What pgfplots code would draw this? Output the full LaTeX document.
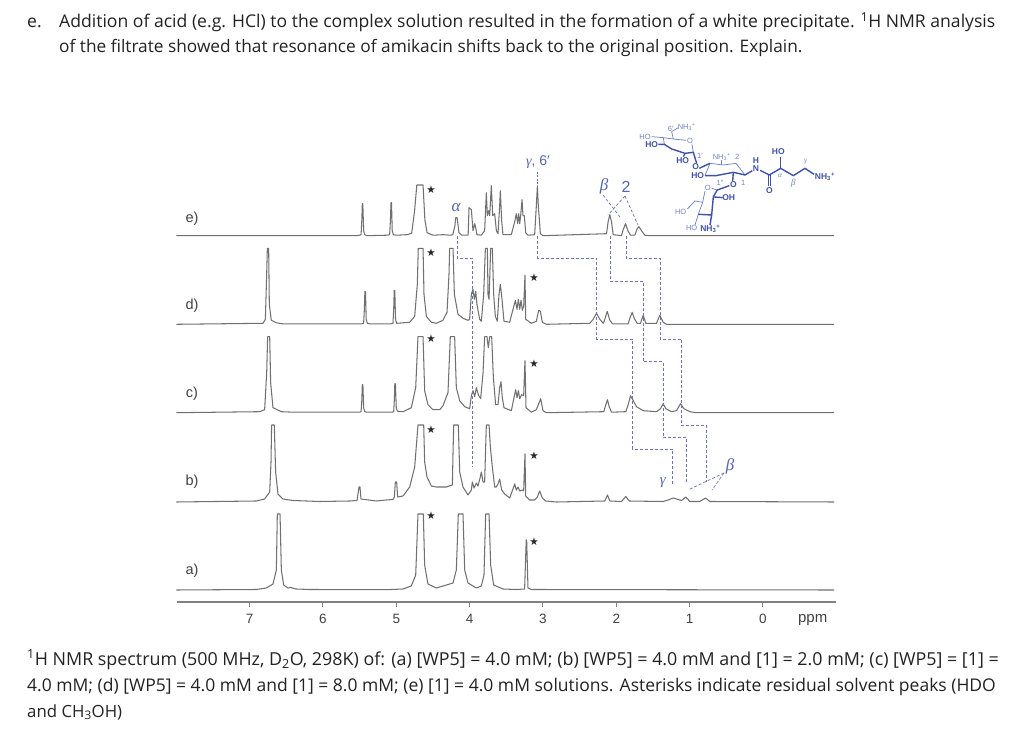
\documentclass[border=0pt]{standalone}
\usepackage{fontspec}
\usepackage{pgfplots}
\usepackage{pgfplotstable}
\pgfplotsset{compat=1.18}
\setmainfont{Open Sans}
\newfontfamily\lib{Liberation Sans}
\newfontfamily\libs{Liberation Serif}
\newfontfamily\djv{DejaVu Sans}
\definecolor{speccol}{HTML}{707070}
\definecolor{axcol}{HTML}{808080}
\definecolor{dashcol}{HTML}{6A74B8}
\definecolor{bluetxt}{HTML}{5566AE}
\definecolor{molcol}{HTML}{3F52A8}
\definecolor{moltcol}{HTML}{7282C4}
\definecolor{txtcol}{HTML}{222222}
\pgfplotstableread[row sep=crcr]{ppm h\\
8.00 0\\ 5.55 0\\ 5.50 .5\\ 5.48 1\\ 5.47 15\\ 5.463 32\\ 5.456 32\\ 5.445 5\\ 5.43 1\\ 5.40 0\\
5.12 .5\\ 5.09 1\\ 5.08 15\\ 5.072 33\\ 5.065 33\\ 5.055 5\\ 5.04 1\\ 5.00 .5\\
4.85 1\\ 4.79 2.5\\ 4.75 25\\ 4.72 50.7\\ 4.635 50.7\\ 4.61 16\\ 4.58 3\\ 4.50 .5\\ 4.36 1\\ 4.26 .5\\
4.23 1\\ 4.20 10\\ 4.19 18\\ 4.17 18\\ 4.145 3\\ 4.11 .5\\ 4.02 .5\\ 4.008 28\\ 3.976 26\\ 3.954 5\\ 3.93 12\\ 3.917 8\\ 3.90 1\\ 3.84 .5\\
3.795 5\\ 3.772 43\\ 3.758 20\\ 3.74 25\\ 3.726 20\\ 3.704 50\\ 3.685 20\\ 3.658 22\\ 3.635 5\\ 3.613 2\\ 3.59 30\\ 3.581 45\\ 3.563 15\\ 3.545 1\\
3.431 1\\ 3.385 14\\ 3.363 22\\ 3.345 12\\ 3.331 22\\ 3.317 12\\ 3.304 20\\ 3.285 36\\ 3.272 20\\ 3.254 20\\ 3.235 3\\ 3.204 .5\\
3.113 1\\ 3.09 30\\ 3.076 50\\ 3.063 30\\ 3.035 2\\ 3.0 0\\
2.133 2\\ 2.111 14\\ 2.088 21\\ 2.065 14\\ 2.043 1\\ 1.929 0\\ 1.906 6\\ 1.874 12\\ 1.842 5\\ 1.806 .5\\ 1.747 .5\\ 1.715 7\\ 1.692 9\\ 1.656 5\\ 1.611 .5\\ 1.54 0\\ -0.97 0\\
}\specE
\pgfplotstableread[row sep=crcr]{ppm h\\
8.0 0\\ 6.817 1\\ 6.785 5\\ 6.767 50\\ 6.758 76\\ 6.74 76\\ 6.731 20\\ 6.704 4\\ 6.635 1.5\\ 6.545 .5\\
5.47 .5\\ 5.445 1\\ 5.435 15\\ 5.428 33\\ 5.42 33\\ 5.41 5\\ 5.395 1\\ 5.36 .5\\
5.07 .5\\ 5.045 1\\ 5.035 15\\ 5.028 34\\ 5.02 34\\ 5.01 5\\ 4.995 1\\
4.817 2\\ 4.749 8\\ 4.713 40\\ 4.70 76\\ 4.635 76\\ 4.622 30\\ 4.59 8\\ 4.522 2\\ 4.454 1\\ 4.363 4\\ 4.308 12\\ 4.281 50\\ 4.272 76\\ 4.226 76\\ 4.208 30\\ 4.158 10\\ 4.09 6\\ 4.022 4\\ 4.0 5\\
3.976 30\\ 3.954 35\\ 3.935 25\\ 3.917 33\\ 3.90 20\\ 3.863 5\\ 3.84 3\\ 3.808 30\\ 3.785 76\\ 3.758 76\\ 3.749 30\\ 3.735 25\\ 3.713 76\\ 3.69 76\\ 3.672 30\\ 3.649 8\\ 3.622 3\\ 3.599 30\\ 3.581 40\\ 3.558 25\\ 3.531 3\\
3.454 2\\ 3.408 15\\ 3.376 24\\ 3.354 15\\ 3.335 25\\ 3.317 15\\ 3.299 24\\ 3.281 14\\ 3.263 18\\ 3.245 49\\ 3.235 5\\ 3.158 1\\ 3.09 3\\ 3.058 14\\ 3.035 13\\ 3.008 2\\ 2.954 0\\
2.361 1\\ 2.315 5\\ 2.27 11\\ 2.224 5\\ 2.179 1\\ 2.165 3\\ 2.124 13\\ 2.088 4\\ 2.052 .5\\ 1.838 .5\\ 1.815 6\\ 1.783 12\\ 1.756 6\\ 1.715 1\\ 1.67 1\\ 1.633 9\\ 1.597 1\\ 1.452 1\\ 1.406 9\\ 1.361 2\\ 1.315 0\\ -0.97 0\\
}\specD
\pgfplotstableread[row sep=crcr]{ppm h\\
8.0 0\\ 6.863 1\\ 6.795 3\\ 6.767 40\\ 6.754 76\\ 6.726 76\\ 6.713 30\\ 6.681 5\\ 6.567 1\\ 6.4 .5\\
5.50 .5\\ 5.48 1\\ 5.47 12\\ 5.463 28\\ 5.455 28\\ 5.445 5\\ 5.43 1\\ 5.40 .5\\
5.06 .5\\ 5.035 1\\ 5.025 15\\ 5.02 29\\ 5.012 29\\ 5.0 5\\ 4.985 1.5\\
4.908 1\\ 4.795 5\\ 4.735 25\\ 4.704 76\\ 4.635 76\\ 4.613 22\\ 4.568 8\\ 4.50 3\\ 4.408 3\\ 4.363 7\\ 4.295 20\\ 4.263 76\\ 4.204 76\\ 4.181 25\\ 4.135 12\\ 4.067 6\\ 4.0 4\\
3.976 17\\ 3.954 22\\ 3.931 16\\ 3.908 25\\ 3.876 17\\ 3.849 14\\ 3.817 40\\ 3.795 76\\ 3.763 76\\ 3.745 65\\ 3.726 76\\ 3.699 76\\ 3.676 35\\ 3.645 8\\ 3.613 8\\ 3.59 25\\ 3.572 31\\ 3.554 15\\ 3.531 5\\
3.431 2\\ 3.395 15\\ 3.372 23\\ 3.354 15\\ 3.335 22\\ 3.317 14\\ 3.29 18\\ 3.263 17\\ 3.245 52\\ 3.231 5\\ 3.158 .5\\ 3.09 3\\ 3.031 14\\ 3.0 2\\ 2.954 0\\
2.17 1\\ 2.143 8\\ 2.12 13\\ 2.097 6\\ 2.065 .5\\ 1.87 1\\ 1.838 8\\ 1.806 17\\ 1.783 14\\ 1.724 6\\ 1.633 2\\ 1.452 1\\ 1.397 4\\ 1.361 9\\ 1.324 4\\ 1.247 1\\ 1.179 2\\ 1.124 9\\ 1.079 4\\ .997 1\\ .906 0\\ -0.97 0\\
}\specC
\pgfplotstableread[row sep=crcr]{ppm h\\
8.0 0\\ 6.908 1\\ 6.795 3\\ 6.726 10\\ 6.708 40\\ 6.70 77\\ 6.663 77\\ 6.645 30\\ 6.613 8\\ 6.545 3\\ 6.408 1.5\\ 6.045 .5\\
5.635 1\\ 5.535 1.5\\ 5.522 8\\ 5.508 15\\ 5.495 15\\ 5.481 3\\ 5.272 1\\ 5.135 2\\ 5.045 2.5\\ 5.026 5\\ 5.013 20\\ 4.995 20\\ 4.981 5\\
4.908 6\\ 4.817 15\\ 4.749 35\\ 4.704 77\\ 4.626 77\\ 4.613 40\\ 4.581 25\\ 4.522 16\\ 4.454 15\\ 4.317 15\\ 4.235 17\\ 4.226 50\\ 4.217 77\\ 4.154 77\\ 4.135 30\\ 4.09 15\\ 4.022 7\\
3.976 12\\ 3.963 20\\ 3.94 14\\ 3.908 19\\ 3.886 16\\ 3.854 25\\ 3.84 30\\ 3.817 20\\ 3.795 20\\ 3.772 77\\ 3.735 77\\ 3.717 55\\ 3.69 35\\ 3.658 15\\ 3.635 15\\ 3.613 18\\ 3.59 23\\ 3.563 12\\ 3.522 8\\
3.454 4\\ 3.408 13\\ 3.385 18\\ 3.363 12\\ 3.34 15\\ 3.317 11\\ 3.281 12\\ 3.263 11\\ 3.245 48\\ 3.235 6\\ 3.181 2\\ 3.113 2\\ 3.076 5\\ 3.045 11\\ 3.008 4\\ 2.963 1\\ 2.817 0\\
2.156 1\\ 2.12 7\\ 2.088 1\\ 1.929 .5\\ 1.87 5.5\\ 1.824 1\\ 1.361 .5\\ 1.293 2\\ 1.224 4\\ 1.11 1.5\\ 1.052 5\\ .997 .5\\ .861 .5\\ .783 4\\ .724 .5\\ -0.97 0\\
}\specB
\pgfplotstableread[row sep=crcr]{ppm h\\
8.0 0\\ 6.908 .5\\ 6.772 2\\ 6.681 6\\ 6.635 20\\ 6.622 76\\ 6.585 76\\ 6.567 20\\ 6.535 5\\ 6.476 2\\ 6.44 2.5\\ 6.363 1\\ 6.18 .5\\ 5.135 .3\\
4.908 1\\ 4.795 4\\ 4.735 15\\ 4.704 76\\ 4.631 76\\ 4.613 25\\ 4.568 6\\ 4.454 2\\ 4.363 4\\ 4.226 7\\ 4.181 20\\ 4.154 76\\ 4.09 76\\ 4.067 20\\ 4.022 7\\ 3.908 2\\ 3.84 4\\ 3.804 15\\ 3.781 76\\ 3.735 76\\ 3.713 25\\ 3.672 5\\ 3.545 1\\ 3.363 .5\\ 3.25 1\\ 3.228 50\\ 3.222 50\\ 3.204 2\\ 3.158 .5\\ -0.97 0\\
}\specA
\newcommand{\sz}[1]{\fontsize{#1}{#1}\selectfont}
\begin{document}
\begin{tikzpicture}
\useasboundingbox (-177pt,-150pt) rectangle (847pt,602pt);
\begin{axis}[
  scale only axis, width=659pt, height=502pt,
  x dir=reverse, xmin=-0.996, xmax=7.99, ymin=0, ymax=502,
  axis x line=bottom, axis y line=none, clip=false,
  axis line style={color=axcol, line width=1.4pt, -},
  xtick={0,1,2,3,4,5,6,7},
  tick style={color=axcol, line width=1pt},
  tick align=outside, major tick length=5pt,
  xticklabel style={font=\lib\sz{13.5}, text=black!75, yshift=-4pt},
  /pgf/number format/assume math mode=true,
]
\addplot[speccol, line width=1.05pt, line join=round] table[x=ppm, y expr=\thisrow{h}+12]{\specA};
\addplot[speccol, line width=1.05pt, line join=round] table[x=ppm, y expr=\thisrow{h}+100]{\specB};
\addplot[speccol, line width=1.05pt, line join=round] table[x=ppm, y expr=\thisrow{h}+189.3]{\specC};
\addplot[speccol, line width=1.05pt, line join=round] table[x=ppm, y expr=\thisrow{h}+277.7]{\specD};
\addplot[speccol, line width=1.05pt, line join=round] table[x=ppm, y expr=\thisrow{h}+366.3]{\specE};
\end{axis}
\begin{scope}[shift={(-177pt,602pt)},x=1pt,y=-1pt]
% connectors
\begin{scope}[color=dashcol, line width=0.9pt, dash pattern=on 3pt off 2pt]
\draw (457,236)--(457,258)--(472,258)--(472,467);
\draw (537.7,236)--(537.7,258)--(596.7,258)--(596.7,339)--(632.3,339)--(632.3,449)--(672.3,449)--(672.3,484);
\draw (610,236)--(610,281)--(643.3,281)--(643.3,361.7)--(663.3,361.7)--(663.3,437.7)--(686.7,437.7)--(686.7,482.3);
\draw (626,236)--(626,258.3)--(660,258.3)--(660,339)--(681.7,339)--(681.7,425.7)--(706.7,425.7)--(706.7,482);
\draw[line width=0.7pt,dash pattern=on 2pt off 1.5pt] (537.7,172)--(537.7,185);
\draw[line width=0.7pt] (603,195)--(620.7,218);
\draw[line width=0.7pt] (625,196)--(608,215);
\draw[line width=0.7pt] (625,196)--(638,225);
\draw[line width=0.7pt] (724,473)--(688,490);
\draw[line width=0.7pt] (724,473)--(712,490);
\end{scope}
% peak labels
\begin{scope}[every node/.style={text=bluetxt,inner sep=0pt}]
\node at (538,162) {\lib\sz{14}{\libs\itshape γ}, 6′};
\node at (456,208) {\libs\itshape\sz{17}α};
\node at (604,186) {\libs\itshape\sz{17}β};
\node at (626,187) {\lib\sz{16}2};
\node at (662.7,483) {\libs\itshape\sz{15}γ};
\node at (730,466) {\libs\itshape\sz{17}β};
\end{scope}
% stars
\foreach \p in {(431,189.3),(431,253),(534,278),(431,339),(534,364),(431,430),(534,455.7),(431,516),(534,541.7)}
  \node[inner sep=0pt,text=black!85] at \p {\djv\sz{10.5}★};
% series labels
\begin{scope}[every node/.style={text=black!75,inner sep=0pt}]
\node at (192,219) {\lib\sz{14.5}e)};
\node at (192,306) {\lib\sz{14.5}d)};
\node at (192,394) {\lib\sz{14.5}c)};
\node at (192,482) {\lib\sz{14.5}b)};
\node at (192,571) {\lib\sz{14.5}a)};
\node at (812.7,620.5) {\lib\sz{15}ppm};
\end{scope}
% text
\begin{scope}[every node/.style={anchor=base west,inner sep=0pt,text=txtcol}]
\node at (27,28) {\sz{17.5}e.};
\node at (59,28) {\sz{17.58}Addition of acid (e.g. HCl) to the complex solution resulted in the formation of a white precipitate. \textsuperscript{1}H NMR analysis};
\node at (59,53) {\sz{17.27}of the filtrate showed that resonance of amikacin shifts back to the original position. Explain.};
\node at (27,665) {\sz{17.87}\textsuperscript{1}H NMR spectrum (500 MHz, D\textsubscript{2}O, 298K) of: (a) [WP5] = 4.0 mM; (b) [WP5] = 4.0 mM and [1] = 2.0 mM; (c) [WP5] = [1] =};
\node at (27,691) {\sz{17.5}4.0 mM; (d) [WP5] = 4.0 mM and [1] = 8.0 mM; (e) [1] = 4.0 mM solutions. Asterisks indicate residual solvent peaks (HDO};
\node at (27,717) {\sz{16.8}and CH\textsubscript{3}OH)};
\end{scope}
% amikacin structure
\begin{scope}[shift={(630,115)},x=0.3333pt,y=-0.3333pt]
\begin{scope}[color=moltcol,line width=0.75pt,line join=round]
\draw (65,65)--(100,68)--(130,72)--(168,76);
\draw (130,72)--(125,50)--(145,38);
\draw (100,68)--(103,88);
\draw (186,88)--(190,112);
\draw (240,145)--(280,150)--(318,145)--(345,180);
\draw (240,145)--(225,182);
\draw (275,135)--(275,150);
\draw (245,220)--(262,225);
\draw (225,228)--(218,262)--(205,298);
\draw (218,262)--(195,258)--(172,282);
\draw (205,298)--(195,330);
\end{scope}
\begin{scope}[color=molcol,line width=1.4pt,line join=round]
\draw (85,88)--(103,88)--(125,102)--(165,115)--(190,112)--(200,145);
\draw (165,115)--(160,125);
\draw (208,160)--(240,145);
\draw (225,182)--(258,182)--(310,172)--(345,180)--(367,167);
\draw (310,172)--(308,198);
\draw (262,225)--(250,245)--(245,300)--(205,298);
\draw (262,225)--(298,212);
\draw (252,246)--(278,248);
\draw (245,300)--(240,330);
\draw (390,166)--(418,180)--(452,160)--(490,182)--(525,160)--(552,178);
\draw (415,180)--(415,212);
\draw (421,180)--(421,212);
\draw (452,160)--(452,125);
\end{scope}
\begin{scope}[every node/.style={inner sep=0pt,text=molcol,font=\lib\bfseries\sz{8.5}}]
\node at (65,90) {HO};
\node at (158,136) {HO};
\node at (197,156) {O};
\node at (203,183) {HO};
\node at (310,210) {O};
\node at (378,160) {N};
\node at (378,137) {H};
\node at (418,228) {O};
\node at (445,110) {HO};
\node at (585,185) {NH\textsubscript{3}\textsuperscript{+}};
\node at (296,249) {OH};
\node at (241,342) {NH\textsubscript{3}\textsuperscript{+}};
\end{scope}
\begin{scope}[every node/.style={inner sep=0pt,text=moltcol,font=\lib\sz{7.5}}]
\node at (45,65) {HO};
\node at (170,37) {NH\textsubscript{3}\textsuperscript{+}};
\node at (180,78) {O};
\node at (275,125) {NH\textsubscript{3}\textsuperscript{+}};
\node at (233,218) {O};
\node at (152,290) {HO};
\node at (185,340) {HO};
\node at (122,42) {6′};
\node at (210,122) {1′};
\node at (322,127) {2};
\node at (340,203) {1};
\node at (270,203) {1″};
\node at (527,140) {\libs\itshape γ};
\node at (450,183) {\libs\itshape α};
\node at (490,205) {\libs\itshape\sz{9}β};
\end{scope}
\end{scope}
\end{scope}
\end{tikzpicture}
\end{document}
